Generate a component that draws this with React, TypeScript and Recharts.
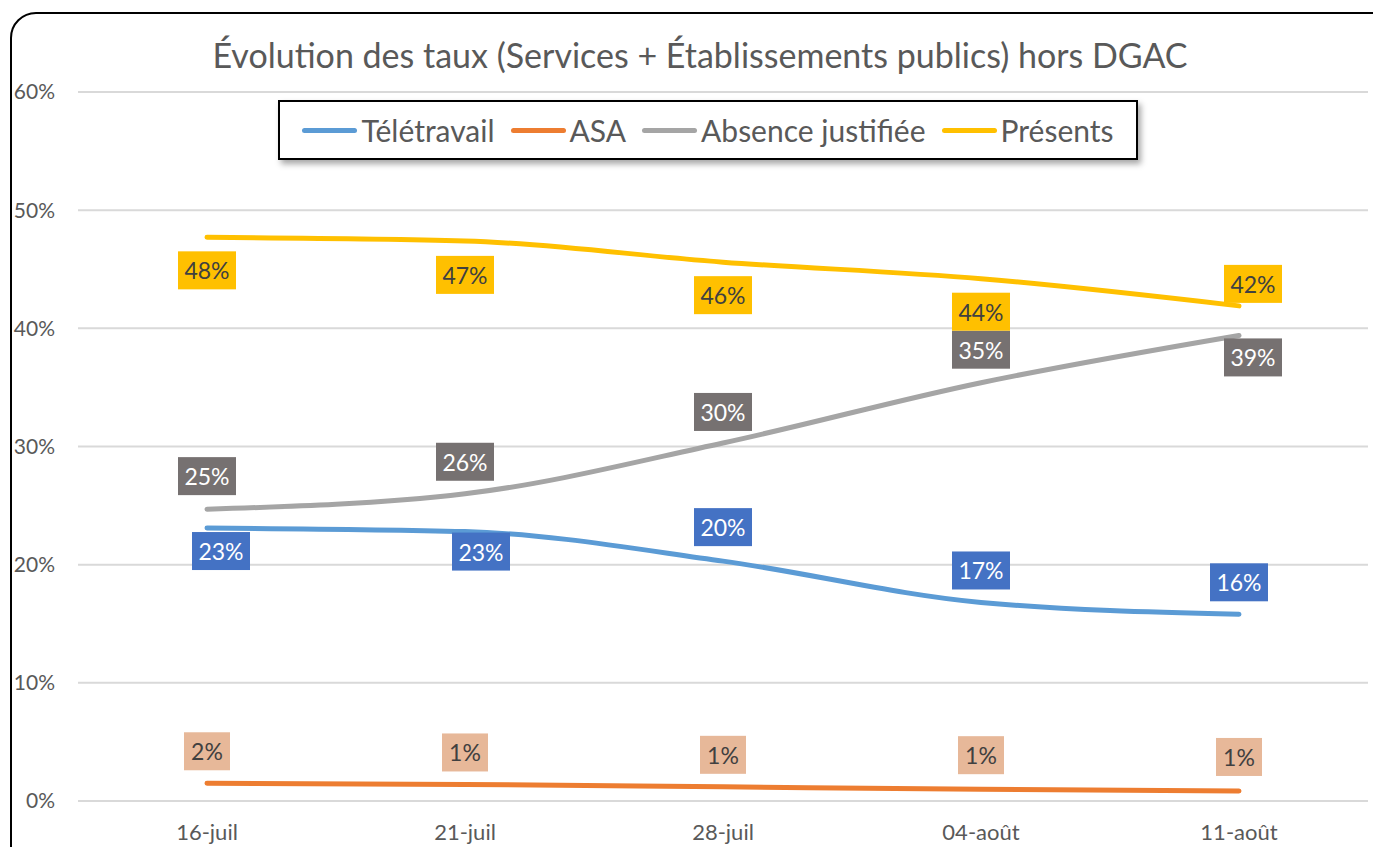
import React from 'react';
import { LineChart, Line, XAxis, YAxis, CartesianGrid, LabelList } from 'recharts';

const dates = ['16-juil', '21-juil', '28-juil', '04-août', '11-août'];
const teletravail = [23.1, 22.8, 20.3, 16.8, 15.8];
const asa = [1.5, 1.4, 1.2, 1.0, 0.85];
const absence = [24.7, 26.0, 30.3, 35.4, 39.4];
const presents = [47.7, 47.4, 45.6, 44.2, 41.9];
const yTicks = [0, 10, 20, 30, 40, 50, 60];

const seriesNames = ['Télétravail', 'ASA', 'Absence justifiée', 'Présents'];
const seriesKeys = ['teletravail', 'asa', 'absence', 'presents'];
const lineColors = ['#5B9BD5', '#ED7D31', '#A5A5A5', '#FFC000'];
const labelFills = ['#4472C4', '#E7B899', '#767171', '#FFC000'];
const labelTextColors = ['#ffffff', '#404040', '#ffffff', '#404040'];

// label placement relative to the point (dx, dy)
const labelPos = [
  [[14, 23], [16, 20], [0, -34], [0, -32], [0, -32]],
  [[0, -32], [0, -32], [0, -32], [0, -34], [0, -34]],
  [[0, -33], [0, -32], [0, -31], [0, -33], [14, 22]],
  [[0, 33], [0, 34], [0, 33], [0, 33], [14, -22]],
];

const data = dates.map((d, i) => ({
  date: d,
  teletravail: teletravail[i],
  asa: asa[i],
  absence: absence[i],
  presents: presents[i],
}));

const FONT = 'Lato, "Open Sans", sans-serif';

const makeLabel = (fill: string, color: string, pos: number[][]) => (props: any) => {
  const { x, y, value, index } = props;
  const [dx, dy] = pos[index] ?? [0, -32];
  const text = `${Math.round(Number(value))}%`;
  const w = 22 + 12 * text.length;
  const h = 38;
  const cx = x + dx;
  const cy = y + dy;
  return (
    <g>
      <rect x={cx - w / 2} y={cy - h / 2} width={w} height={h} fill={fill} />
      <text
        x={cx}
        y={cy}
        textAnchor="middle"
        dominantBaseline="central"
        fill={color}
        fontSize={23}
        fontFamily={FONT}
      >
        {text}
      </text>
    </g>
  );
};

const App: React.FC = () => {
  return (
    <div
      style={{
        position: 'relative',
        width: 1381,
        height: 847,
        margin: '-8px -8px 0 -8px',
        overflow: 'hidden',
        background: '#fff',
        fontFamily: FONT,
      }}
    >
      <div
        style={{
          position: 'absolute',
          left: 10,
          top: 12,
          width: 1400,
          height: 900,
          border: '2px solid #000',
          borderRadius: 26,
        }}
      />
      <div
        style={{
          position: 'absolute',
          left: 0,
          top: 34,
          width: 1400,
          textAlign: 'center',
          fontSize: 34,
          color: '#595959',
        }}
      >
        Évolution des taux (Services + Établissements publics) hors DGAC
      </div>
      <div style={{ position: 'absolute', left: 0, top: 0 }}>
        <LineChart
          width={1381}
          height={847}
          data={data}
          margin={{ top: 92, right: 13, bottom: 12, left: 8 }}
        >
          <CartesianGrid vertical={false} stroke="#d9d9d9" strokeWidth={2} />
          <XAxis
            dataKey="date"
            padding={{ left: 129, right: 129 }}
            axisLine={false}
            tickLine={false}
            tickMargin={17}
            height={34}
            tick={{ fill: '#595959', fontSize: 22, fontFamily: FONT }}
          />
          <YAxis
            width={70}
            domain={[0, 60]}
            ticks={yTicks}
            axisLine={false}
            tickLine={false}
            tickMargin={17}
            tickFormatter={(v) => `${v}%`}
            tick={{ fill: '#595959', fontSize: 21, fontFamily: FONT }}
          />
          {seriesKeys.map((key, i) => (
            <Line
              key={key}
              name={seriesNames[i]}
              type="monotone"
              dataKey={key}
              stroke={lineColors[i]}
              strokeWidth={5}
              strokeLinecap="round"
              dot={false}
              isAnimationActive={false}
            >
              <LabelList
                dataKey={key}
                content={makeLabel(labelFills[i], labelTextColors[i], labelPos[i])}
              />
            </Line>
          ))}
        </LineChart>
      </div>
      <div
        style={{
          position: 'absolute',
          left: 278,
          top: 100,
          width: 860,
          height: 60,
          boxSizing: 'border-box',
          border: '2px solid #000',
          background: '#fff',
          boxShadow: '3px 4px 6px rgba(0,0,0,0.35)',
          display: 'flex',
          alignItems: 'center',
          justifyContent: 'center',
          gap: 16,
          fontSize: 30,
          color: '#595959',
        }}
      >
        {seriesNames.map((name, i) => (
          <div key={name} style={{ display: 'flex', alignItems: 'center' }}>
            <span
              style={{
                display: 'inline-block',
                width: 55,
                height: 5,
                borderRadius: 3,
                background: lineColors[i],
                marginRight: 4,
              }}
            />
            <span>{name}</span>
          </div>
        ))}
      </div>
    </div>
  );
};

export default App;
